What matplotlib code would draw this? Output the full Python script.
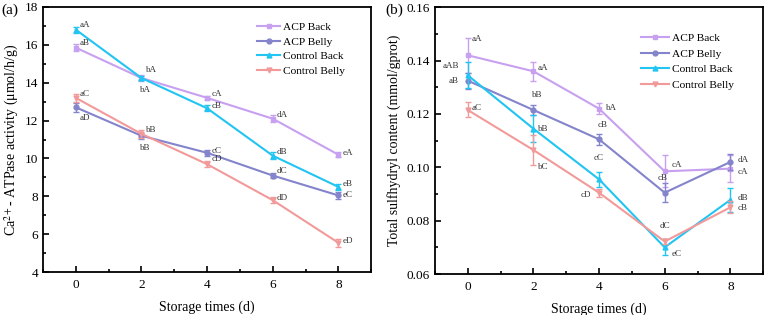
import matplotlib
matplotlib.use('Agg')
import matplotlib.pyplot as plt
from matplotlib.ticker import MultipleLocator

plt.rcParams['font.family'] = ['Liberation Serif', 'DejaVu Serif']
plt.rcParams['mathtext.fontset'] = 'stix'

days = [0, 2, 4, 6, 8]
series = ['ACP Back', 'ACP Belly', 'Control Back', 'Control Belly']
colors = ['#C8A0F0', '#8484CC', '#22C4F2', '#F29A9A']
markers = ['s', 'o', '^', 'v']

# panel (a): Ca2+-ATPase activity
atp = [[15.85, 14.25, 13.2, 12.1, 10.2],
       [12.7, 11.2, 10.3, 9.1, 8.05],
       [16.8, 14.25, 12.65, 10.15, 8.5],
       [13.2, 11.3, 9.7, 7.8, 5.55]]
atp_err = [[0.2, 0.15, 0.12, 0.18, 0.12],
           [0.25, 0.15, 0.15, 0.12, 0.18],
           [0.15, 0.12, 0.15, 0.2, 0.15],
           [0.2, 0.2, 0.15, 0.15, 0.2]]
atp_lab = [['aB', 'bA', 'cA', 'dA', 'eA'],
           ['aD', 'bB', 'cC', 'dC', 'eC'],
           ['aA', 'bA', 'cB', 'dB', 'eB'],
           ['aC', 'bB', 'cD', 'dD', 'eD']]
atp_off = [[(3, 2), (3, 4), (3, 1), (3, 1), (3, 0)],
           [(3, -9), (-1, -10), (3, 0), (3, 2), (3, -1)],
           [(3, 2), (-1, -10), (3, 0), (3, 1), (3, 1)],
           [(3, 1), (3, 1), (3, 2), (3, 0), (3, 0)]]

# panel (b): total sulfhydryl content
sh = [[0.142, 0.136, 0.122, 0.0985, 0.0995],
      [0.1325, 0.1215, 0.1105, 0.0905, 0.102],
      [0.1345, 0.1145, 0.0955, 0.070, 0.0878],
      [0.1215, 0.1065, 0.0905, 0.0722, 0.085]]
sh_err = [[0.0065, 0.0035, 0.002, 0.006, 0.005],
          [0.003, 0.002, 0.002, 0.0035, 0.003],
          [0.0048, 0.005, 0.0027, 0.003, 0.0045],
          [0.0028, 0.0055, 0.0015, 0.001, 0.0022]]
sh_lab = [['aA', 'aA', 'bA', 'cA', 'cA'],
          ['aB', 'bB', 'cB', 'cB', 'dA'],
          ['aAB', 'bB', 'cC', 'eC', 'dB'],
          ['aC', 'bC', 'cD', 'dC', 'cB']]
sh_off = [[(3, 10), (3, 1), (5, -1), (5, 3), (5, -4)],
          [(-14, -2), (-1, 9), (-1, 9), (-5, 9), (5, 0)],
          [(-18, 5), (3, -2), (-4, 14), (5, -6), (5, 0)],
          [(3, 0), (3, -14), (-13, -3), (-4, 10), (5, -2)]]


def panel(ax, data, err, labs, offs, leg_anchor, leg_space, leg_hl):
    for k in range(len(series)):
        ax.errorbar(days, data[k], yerr=err[k], color=colors[k], fmt='none',
                    capsize=2.5, elinewidth=1)
        ax.plot(days, data[k], color=colors[k], marker=markers[k],
                markersize=3.5, lw=1.5, label=series[k])
        for x, y, t, o in zip(days, data[k], labs[k], offs[k]):
            ax.annotate(t, (x, y), xytext=o, textcoords='offset points',
                        fontsize=6.5, color='#333333')
    ax.set_xlim(-1, 9)
    ax.xaxis.set_major_locator(MultipleLocator(2))
    ax.xaxis.set_minor_locator(MultipleLocator(1))
    ax.tick_params(which='both', direction='in', labelsize=9.5, width=1.2)
    ax.tick_params(which='major', length=4)
    ax.tick_params(which='minor', length=2.5)
    ax.tick_params(axis='x', pad=5)
    for s in ax.spines.values():
        s.set_linewidth(1.3)
    ax.set_xlabel('Storage times (d)', fontsize=10, labelpad=7)
    ax.legend(loc='upper right', bbox_to_anchor=leg_anchor, frameon=False,
              fontsize=8.2, labelspacing=leg_space, handlelength=leg_hl,
              handletextpad=0.25, borderaxespad=0.0)


fig = plt.figure(figsize=(7.67, 3.15), dpi=100)
ax1 = fig.add_axes([0.056, 0.136, 0.428, 0.842])
ax2 = fig.add_axes([0.567, 0.130, 0.428, 0.847])

panel(ax1, atp, atp_err, atp_lab, atp_off, (0.935, 0.96), 0.4, 2.1)
ax1.set_ylim(4, 18)
ax1.yaxis.set_major_locator(MultipleLocator(2))
ax1.yaxis.set_minor_locator(MultipleLocator(1))
ax1.set_ylabel(r'Ca$^{2+}$- ATPase activity (μmol/h/g)', fontsize=10, labelpad=3)

panel(ax2, sh, sh_err, sh_lab, sh_off, (0.925, 0.92), 0.5, 2.5)
ax2.set_ylim(0.06, 0.16)
ax2.yaxis.set_major_locator(MultipleLocator(0.02))
ax2.yaxis.set_minor_locator(MultipleLocator(0.01))
ax2.set_yticklabels(['%.2f' % v for v in ax2.get_yticks()])
ax2.set_ylim(0.06, 0.16)
ax2.set_ylabel('Total sulfhydryl content (mmol/gprot)', fontsize=10, labelpad=4)

fig.text(0.002, 0.955, '(a)', fontsize=11)
fig.text(0.503, 0.955, '(b)', fontsize=11)

plt.savefig('out.png')
